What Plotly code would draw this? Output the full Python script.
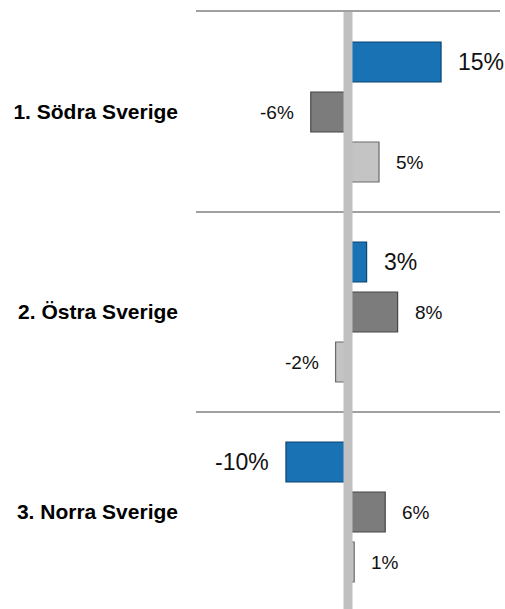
import plotly.graph_objects as go

categories = ["1. Södra Sverige", "2. Östra Sverige", "3. Norra Sverige"]
series_names = ["Serie A", "Serie B", "Serie C"]
blue_values = [15, 3, -10]
dark_values = [-6, 8, 6]
light_values = [5, -2, 1]

series = [blue_values, dark_values, light_values]
fills = ["#1872b4", "#7c7c7c", "#c4c4c4"]
edges = ["#0b4470", "#474747", "#6a6a6a"]
label_sizes = [23, 19, 19]
FONT = "Liberation Sans, Arial, sans-serif"

fig = go.Figure()
for name, vals, fc, ec in zip(series_names, series, fills, edges):
    fig.add_trace(go.Bar(
        y=categories, x=vals, orientation="h", name=name,
        marker=dict(color=fc, line=dict(color=ec, width=1.2)),
        showlegend=False, hoverinfo="skip",
    ))

annotations = []
for si, vals in enumerate(series):
    for ci, v in enumerate(vals):
        annotations.append(dict(
            x=v, y=ci + (si - 1) * 0.25, xref="x", yref="y",
            text=f"{v:.0f}%", showarrow=False,
            xanchor="left" if v >= 0 else "right",
            xshift=15 if v >= 0 else -15,
            font=dict(family=FONT, size=label_sizes[si], color="#111111"),
        ))

fig.add_shape(type="line", xref="x", yref="paper", x0=0, x1=0, y0=0, y1=1,
              line=dict(color="#c0c0c0", width=9), layer="above")

fig.update_layout(
    width=505, height=609,
    margin=dict(l=196, r=5, t=12, b=0),
    paper_bgcolor="white", plot_bgcolor="white",
    barmode="group", bargap=0.25, bargroupgap=0.2,
    annotations=annotations,
    xaxis=dict(range=[-24.5, 24.5], showgrid=False, zeroline=False,
               showticklabels=False, showline=True, side="top",
               linecolor="#a0a0a0", linewidth=2, ticks=""),
    yaxis=dict(type="category", categoryorder="array", categoryarray=categories,
               range=[2.485, -0.5], tickson="boundaries", showgrid=True,
               gridcolor="#a0a0a0", gridwidth=2, zeroline=False, showline=False,
               ticks="", ticklabelstandoff=17,
               tickfont=dict(family=FONT, size=21, color="#000000", weight="bold")),
)

fig.write_html(
    "out.html",
    config={"displayModeBar": False},
    post_script="document.body.style.margin='0';document.body.style.overflow='hidden';",
)
